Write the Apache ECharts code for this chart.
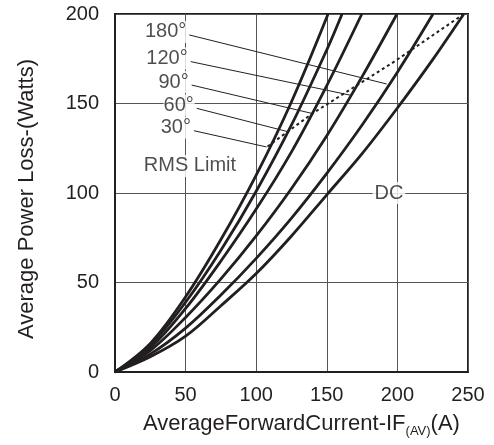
<!DOCTYPE html>
<html><head><meta charset="utf-8">
<script src="https://cdn.jsdelivr.net/npm/echarts@6/dist/echarts.min.js"></script>
<style>html,body{margin:0;padding:0;background:#fff}#c{width:494px;height:445px}</style>
</head><body><div id="c"></div>
<script>
const xTicks = [0, 50, 100, 150, 200, 250];
const yTicks = [0, 50, 100, 150, 200];
const curve30 = [[0,0],[25,16],[50,42],[75,74],[100,110],[125,151],[150.9,200]];
const curve60 = [[0,0],[25,15],[50,39],[75,68],[100,101],[125,138],[150,180],[160.8,200]];
const curve90 = [[0,0],[25,13.5],[50,35.5],[75,62],[100,91],[125,123],[150,160],[174.8,200]];
const curve120 = [[0,0],[25,12],[50,30.5],[75,52],[100,76],[125,102.5],[150,132],[175,165],[199.7,200]];
const curve180 = [[0,0],[25,10],[50,24.5],[75,43],[100,63.5],[125,86],[150,111],[175,138],[200,167.5],[225.2,200]];
const curveDC = [[0,0],[25,8.5],[50,20],[75,37],[100,55],[125,76],[150,99],[175,122],[200,147.5],[225,174.5],[247,200]];
const rmsLimit = [[108,126],[140,144.5],[198,173.5],[247,200]];
const angleLabels = ['180°', '120°', '90°', '60°', '30°'];
const leaderStart = [[52.6,188.3],[53.6,173.4],[54.3,160.3],[57.9,147.3],[55.9,134.8]];
const leaderEnd = [[192.4,160.9],[166.4,154.7],[139.3,144.5],[122.7,134.2],[107.4,125.7]];
const noteTexts = ['RMS Limit', 'DC'];
const notePoints = [[53.1,115.1],[194,100]];

const FONT = 'Liberation Sans, Arial, sans-serif';
const INK = '#231f20';
const chart = echarts.init(document.getElementById('c'), null, {renderer: 'canvas'});

const curves = [curve30, curve60, curve90, curve120, curve180, curveDC];
const series = [];
curves.forEach(function (d) {
  series.push({type: 'line', data: d, symbol: 'none', smooth: 0.35,
    lineStyle: {color: INK, width: 2.8}, z: 3, silent: true});
});
series.push({type: 'line', data: rmsLimit, symbol: 'none',
  lineStyle: {color: INK, width: 2, type: [3, 3]}, z: 3});
leaderStart.forEach(function (s, i) {
  series.push({type: 'line', data: [s, leaderEnd[i]], symbol: 'none',
    lineStyle: {color: INK, width: 1}, z: 3});
});
series.push({type: 'scatter', symbolSize: 0, z: 10,
  data: leaderStart.map(function (s, i) { return {value: s, name: angleLabels[i]}; }),
  label: {show: true, position: 'left', distance: 2, offset: [0, -3], formatter: '{b}',
    fontFamily: FONT, fontSize: 20, color: INK, backgroundColor: '#fff', lineHeight: 22, padding: [0, 1, 0, 0]}
});
series.push({type: 'scatter', symbolSize: 0, z: 10,
  data: notePoints.map(function (s, i) { return {value: s, name: noteTexts[i]}; }),
  label: {show: true, position: 'inside', formatter: '{b}',
    fontFamily: FONT, fontSize: 20, color: INK, backgroundColor: '#fff', lineHeight: 22, padding: [0, 2, 0, 2]}
});

chart.setOption({
  animation: false,
  backgroundColor: '#fff',
  grid: {left: 115, top: 14, width: 353, height: 358, show: true, borderColor: INK, borderWidth: 2, backgroundColor: 'transparent'},
  xAxis: {
    type: 'value', min: xTicks[0], max: xTicks[xTicks.length - 1], interval: 50,
    axisLine: {show: true, lineStyle: {color: INK, width: 2}},
    axisTick: {show: false},
    splitLine: {show: true, lineStyle: {color: '#555', width: 1}},
    axisLabel: {fontFamily: FONT, fontSize: 20, color: INK, margin: 13},
    name: '{a|AverageForwardCurrent-IF}{s|(AV)}{a|(A)}',
    nameLocation: 'middle', nameGap: 32,
    nameTextStyle: {padding: [0, 0, 0, 20], rich: {
      a: {fontFamily: FONT, fontSize: 22, color: INK, lineHeight: 24},
      s: {fontFamily: FONT, fontSize: 13, color: INK, lineHeight: 13, padding: [15, 0, 0, 0]}
    }}
  },
  yAxis: {
    type: 'value', min: yTicks[0], max: yTicks[yTicks.length - 1], interval: 50,
    axisLine: {show: true, lineStyle: {color: INK, width: 2}},
    axisTick: {show: false},
    splitLine: {show: true, lineStyle: {color: '#555', width: 1}},
    axisLabel: {fontFamily: FONT, fontSize: 20, color: INK, margin: 16},
    name: 'Average Power Loss-(Watts)', nameLocation: 'middle', nameGap: 77, nameRotate: 90,
    nameTextStyle: {fontFamily: FONT, fontSize: 22, color: INK, padding: [0, 12, 0, 0]}
  },
  series: series
});
</script></body></html>
